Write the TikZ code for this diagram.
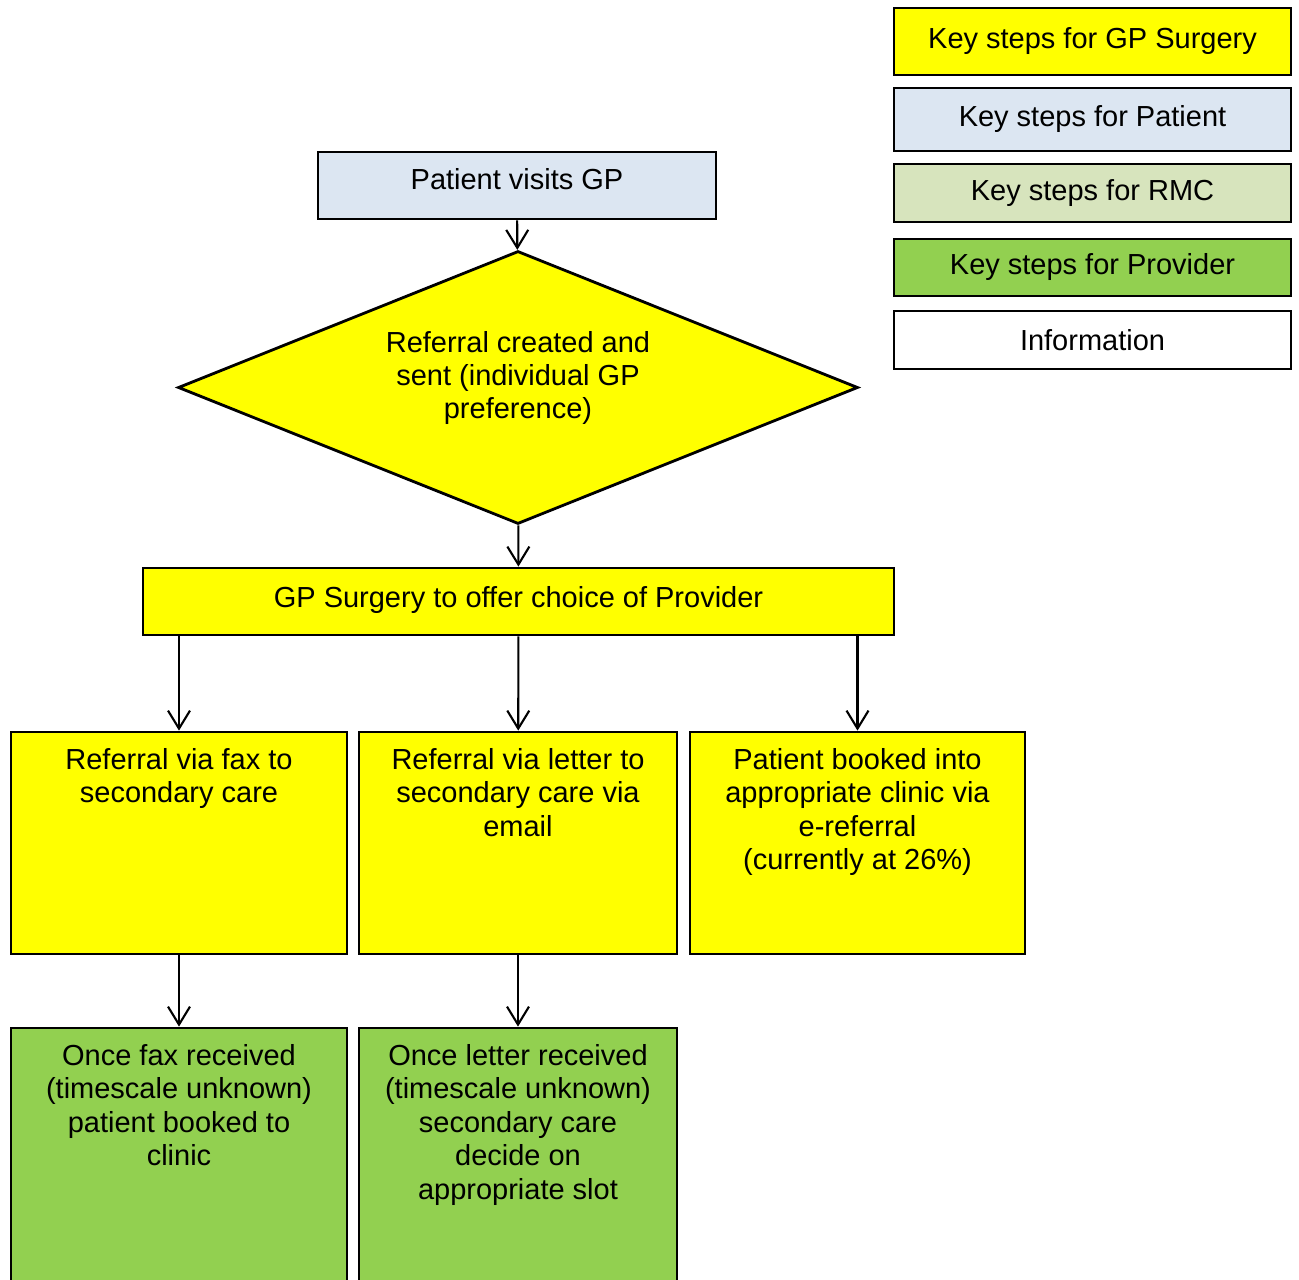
\documentclass[tikz,border=0pt]{standalone}
\usepackage{fontspec}
\setmainfont{Liberation Sans}
\usetikzlibrary{shapes.geometric,arrows.meta,positioning}
\definecolor{gpyellow}{HTML}{FFFF00}
\definecolor{patientblue}{HTML}{DCE6F2}
\definecolor{rmcgreen}{HTML}{D7E4BD}
\definecolor{providergreen}{HTML}{92D050}
\newcommand{\toptext}[1]{\parbox[t]{6cm}{\centering #1}}

\begin{document}
\begin{tikzpicture}[x=0.02cm, y=-0.02cm,
  every node/.style={draw, line width=1.6pt, align=center, inner sep=0pt, font=\fontsize{16.5}{19}\selectfont},
  keybox/.style={minimum width=7.94cm},
  tallbox/.style={inner ysep=8pt, text height=13pt, text depth=#1},
  link/.style={-{Straight Barb[length=0.36cm,width=0.44cm]}, line width=1.2pt}]
  \useasboundingbox (0,0) rectangle (1299,1280);

  % Key
  \node (keygp) [keybox, fill=gpyellow, minimum height=1.34cm] at (1092.5,41.5) {Key steps for GP Surgery};
  \node (keypatient) [keybox, fill=patientblue, minimum height=1.26cm] at (1092.5,119.5) {Key steps for Patient};
  \node (keyrmc) [keybox, fill=rmcgreen, minimum height=1.16cm] at (1092.5,193) {Key steps for RMC};
  \node (keyprovider) [keybox, fill=providergreen, minimum height=1.14cm] at (1092.5,267.5) {Key steps for Provider};
  \node (keyinfo) [keybox, fill=white, minimum height=1.16cm] at (1092.5,340) {Information};

  % Flow
  \node (visit) [fill=patientblue, minimum width=7.96cm, minimum height=1.34cm, text depth=0.28cm] at (517,185.5) {Patient visits GP};
  \node (referral) [diamond, aspect=2.49, fill=gpyellow, minimum width=13.6cm, minimum height=5.46cm, text depth=0.5cm] at (518,387.5) {Referral created and\\sent (individual GP\\preference)};
  \node (choice) [fill=gpyellow, minimum width=15.02cm, minimum height=1.34cm, text depth=0.2cm] at (518.5,601.5) {GP Surgery to offer choice of Provider};

  \node (fax) [tallbox=96.9pt, fill=gpyellow, minimum width=6.72cm, minimum height=4.44cm] at (179,843) {\toptext{Referral via fax to\\secondary care}};
  \node (letter) [tallbox=96.9pt, fill=gpyellow, minimum width=6.36cm, minimum height=4.44cm] at (518,843) {\toptext{Referral via letter to\\secondary care via\\email}};
  \node (ebooked) [tallbox=96.9pt, fill=gpyellow, minimum width=6.7cm, minimum height=4.44cm] at (857.5,843) {\toptext{Patient booked into\\appropriate clinic via\\e-referral\\(currently at 26\%)}};

  \node (faxdone) [tallbox=141pt, fill=providergreen, minimum width=6.72cm, minimum height=6cm] at (179,1178) {\toptext{Once fax received\\(timescale unknown)\\patient booked to\\clinic}};
  \node (letterdone) [tallbox=141pt, fill=providergreen, minimum width=6.36cm, minimum height=6cm] at (518,1178) {\toptext{Once letter received\\(timescale unknown)\\secondary care\\decide on\\appropriate slot}};

  % Arrows
  \draw[link] (visit) -- (referral);
  \draw[link] (referral) -- (choice);
  \draw[link] (fax.north |- choice.south) -- (fax);
  \draw[link] (choice) -- (letter);
  \draw[link] (ebooked.north |- choice.south) -- (ebooked);
  \draw[link] (fax) -- (faxdone);
  \draw[link] (letter) -- (letterdone);
\end{tikzpicture}
\end{document}
